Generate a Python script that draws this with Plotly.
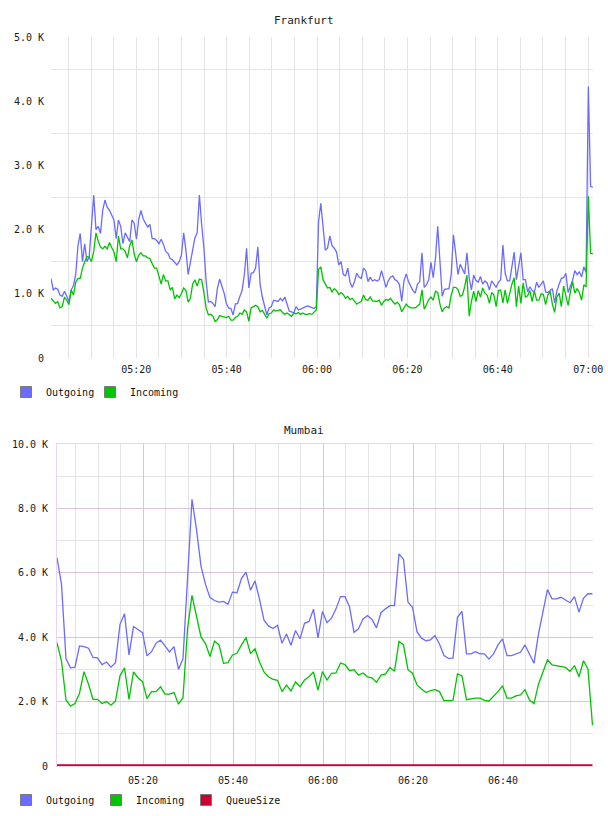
import plotly.graph_objects as go
import pandas as pd

# ---------------- data (values in thousands) ----------------
# Frankfurt: samples roughly every 30 s from 05:01
fra_outgoing = [
    1.24, 1.06, 1.09, 1.07, 0.98, 0.96, 1.04, 0.95, 0.88, 1.06,
    1.13, 1.30, 1.75, 1.94, 1.50, 1.78, 1.50, 1.58, 2.10, 2.54,
    2.00, 2.05, 1.94, 2.30, 2.46, 2.35, 2.30, 2.23, 2.15, 1.86,
    2.15, 2.05, 1.78, 1.95, 1.89, 1.81, 2.15, 2.10, 1.85, 2.15,
    2.30, 2.17, 2.10, 2.04, 2.08, 1.86, 1.86, 1.83, 1.78, 1.85,
    1.77, 1.66, 1.63, 1.55, 1.53, 1.48, 1.45, 1.50, 1.60, 1.95,
    1.68, 1.30, 1.50, 1.73, 1.87, 1.95, 2.54, 2.08, 1.72, 1.20,
    0.87, 0.88, 0.85, 0.80, 1.08, 1.23, 1.12, 1.01, 0.85, 0.78,
    0.77,
    0.67, 0.84, 0.85, 0.96, 1.05, 1.30, 1.71, 1.09, 1.32, 1.33,
    1.40, 1.73, 1.15, 0.95, 0.82, 0.67, 0.78, 0.80, 0.90, 0.89,
    0.88, 0.93, 0.89, 0.95, 0.83, 0.73, 0.72, 0.70, 0.80, 0.75,
    0.76, 0.78, 0.80, 0.81, 0.80, 0.78, 0.77, 0.80, 2.12, 2.41,
    2.05, 1.68, 1.71, 1.90, 1.75, 1.71, 1.65, 1.45, 1.50, 1.30,
    1.28, 1.40, 1.18, 1.10, 1.19, 1.32, 1.26, 1.24, 1.40, 1.36,
    1.19, 1.26, 1.20, 1.22, 1.20, 1.22, 1.36, 1.22, 1.10, 1.20,
    1.26, 1.28, 1.22, 1.20, 1.14, 0.88, 1.20, 1.31, 1.19, 1.12,
    1.05, 1.01, 1.15,
    1.19, 1.64, 1.10, 1.14, 1.22, 1.49, 1.25, 1.55, 2.05, 1.50,
    0.96, 1.07, 1.08, 1.08, 1.30, 1.92, 1.63, 1.30, 1.46, 1.37,
    1.31, 1.64, 1.25, 1.06, 1.29, 1.21, 1.18, 1.27, 1.15, 1.20,
    1.17, 1.06, 1.20, 1.15, 1.10, 1.18, 1.22, 1.76, 1.32, 1.20,
    1.20, 1.42, 1.65, 1.22, 1.42, 1.64, 1.22, 1.22, 1.03, 1.11,
    1.05, 1.03, 1.18, 1.10, 1.15, 1.20, 1.03, 1.02, 1.05, 1.08,
    0.86, 1.04, 1.15, 1.24, 1.25, 1.32, 1.02, 1.13, 1.21, 1.36,
    1.30, 1.34, 1.26, 1.42, 1.33, 4.23, 2.67, 2.66,
]
fra_incoming = [
    0.93, 0.88, 0.85, 0.88, 0.78, 0.80, 0.95, 0.90, 0.83, 1.06,
    0.98, 1.18, 1.24, 1.24, 1.40, 1.50, 1.58, 1.57, 1.50, 1.66,
    1.95, 1.82, 1.73, 1.70, 1.74, 1.70, 1.80, 1.72, 1.65, 1.50,
    1.90, 1.70, 1.70, 1.66, 1.56, 1.75, 1.84, 1.62, 1.50, 1.60,
    1.64, 1.59, 1.59, 1.56, 1.55, 1.47, 1.40, 1.40, 1.26, 1.15,
    1.30, 1.20, 1.20, 1.06, 1.10, 0.92, 0.98, 0.94, 1.00, 1.09,
    1.05, 0.87, 0.93, 1.15, 1.22, 1.12, 1.23, 1.22, 1.02, 0.78,
    0.67, 0.68, 0.65, 0.57, 0.60, 0.66, 0.65, 0.64, 0.63, 0.65,
    0.59,
    0.59, 0.63, 0.65, 0.70, 0.68, 0.75, 0.72, 0.57, 0.78, 0.80,
    0.82, 0.80, 0.72, 0.74, 0.68, 0.62, 0.69, 0.70, 0.75, 0.73,
    0.74, 0.75, 0.71, 0.68, 0.70, 0.67, 0.65, 0.70, 0.69, 0.71,
    0.68, 0.70, 0.68, 0.68, 0.69, 0.68, 0.72, 0.75, 1.38, 1.42,
    1.22, 1.15, 1.09, 1.10, 1.03, 1.08, 1.05, 0.99, 1.02, 0.99,
    0.93, 0.96, 0.91, 0.93, 0.88, 0.84, 0.86, 0.88, 0.98, 0.91,
    0.90, 0.95, 0.89, 0.89, 0.88, 0.90, 0.82, 0.88, 0.91, 0.90,
    0.93, 0.88, 0.84, 0.87, 0.83, 0.72, 0.78, 0.84, 0.80, 0.78,
    0.78, 0.78, 0.81,
    0.84, 1.06, 0.76, 0.83, 0.91, 0.95, 0.90, 1.04, 1.02, 0.84,
    0.72, 0.78, 0.80, 0.78, 0.98, 1.10, 1.10, 1.07, 0.96, 0.98,
    1.11, 1.29, 0.65, 0.88, 1.04, 0.88, 1.05, 0.95, 1.09, 1.01,
    0.98, 0.85, 1.02, 0.98, 0.80, 1.05, 1.06, 0.86, 1.06, 0.85,
    1.01, 1.15, 1.25, 0.80, 1.12, 0.85, 1.17, 0.95, 0.97, 1.05,
    0.88, 1.04, 0.90, 0.90, 1.00, 0.99, 0.83, 0.98, 1.04, 0.84,
    0.71, 0.95, 1.01, 0.80, 1.12, 0.95, 0.82, 1.03, 1.19, 1.01,
    1.08, 1.02, 0.90, 1.14, 1.11, 2.52, 1.63, 1.62,
]

# Mumbai: one sample per minute
mum_outgoing = [
    6.47, 5.64, 3.33, 3.05, 3.07, 3.73, 3.71, 3.66, 3.37, 3.36,
    3.15, 3.23, 3.07, 3.21, 4.40, 4.73, 3.45, 4.33, 4.24, 4.14,
    3.42, 3.55, 3.81, 3.91, 3.73, 3.54, 3.71, 3.00, 3.33, 5.90,
    8.28, 7.35, 6.21, 5.64, 5.23, 5.14, 5.09, 5.11, 5.02, 5.40,
    5.38, 5.82, 6.02, 5.46, 5.75, 5.18, 4.53, 4.35, 4.27, 4.37,
    3.81, 4.10, 3.75, 4.21, 3.95, 4.43, 4.49, 4.87, 3.98, 4.80,
    4.45,
    4.59, 4.88, 5.26, 5.26, 4.95, 4.15, 4.26, 4.57, 4.67, 4.55,
    4.29, 4.76, 4.88, 4.98, 4.98, 6.59, 6.42, 5.09, 4.93, 4.17,
    3.97, 3.89, 3.92, 4.05, 3.79, 3.43, 3.34, 3.35, 4.62, 4.80,
    3.48, 3.48, 3.55, 3.48, 3.48, 3.32, 3.48, 3.76, 3.95, 3.43,
    3.43, 3.48, 3.53, 3.76, 3.48, 3.19, 4.10, 4.78, 5.48, 5.19,
    5.19, 5.24, 5.16, 5.07, 5.26, 4.78, 5.21, 5.35, 5.35,
]
mum_incoming = [
    3.83, 3.26, 2.05, 1.86, 1.94, 2.26, 2.93, 2.54, 2.07, 2.07,
    1.94, 2.00, 1.89, 2.02, 2.80, 3.05, 2.07, 2.92, 2.74, 2.62,
    2.09, 2.31, 2.31, 2.46, 2.23, 2.23, 2.28, 1.92, 2.12, 4.24,
    5.30, 4.61, 4.01, 3.80, 3.40, 3.88, 3.76, 3.19, 3.21, 3.45,
    3.50, 3.76, 3.99, 3.49, 3.64, 3.23, 2.92, 2.77, 2.69, 2.66,
    2.31, 2.51, 2.33, 2.61, 2.46, 2.67, 2.77, 2.92, 2.36, 2.93,
    2.67,
    2.88, 2.89, 3.20, 3.15, 2.96, 2.99, 2.82, 2.89, 2.77, 2.74,
    2.60, 2.82, 2.85, 3.06, 2.94, 3.87, 3.76, 2.99, 2.88, 2.52,
    2.39, 2.28, 2.34, 2.37, 2.31, 2.03, 2.03, 2.04, 2.86, 2.80,
    2.06, 2.09, 2.11, 2.11, 2.04, 2.02, 2.16, 2.31, 2.49, 2.11,
    2.11, 2.18, 2.21, 2.37, 2.05, 1.94, 2.54, 2.91, 3.30, 3.14,
    3.12, 3.09, 3.06, 2.94, 3.12, 2.77, 3.27, 3.01, 1.27,
]
mum_queuesize = [
    0, 0, 0, 0, 0, 0, 0, 0, 0, 0,
    0, 0, 0, 0, 0, 0, 0, 0, 0, 0,
    0, 0, 0, 0, 0, 0, 0, 0, 0, 0,
    0, 0, 0, 0, 0, 0, 0, 0, 0, 0,
    0, 0, 0, 0, 0, 0, 0, 0, 0, 0,
    0, 0, 0, 0, 0, 0, 0, 0, 0, 0,
    0, 0, 0, 0, 0, 0, 0, 0, 0, 0,
    0, 0, 0, 0, 0, 0, 0, 0, 0, 0,
    0, 0, 0, 0, 0, 0, 0, 0, 0, 0,
    0, 0, 0, 0, 0, 0, 0, 0, 0, 0,
    0, 0, 0, 0, 0, 0, 0, 0, 0, 0,
    0, 0, 0, 0, 0, 0, 0, 0, 0, 0,
]

DAY = "2024-01-01 "
fra_start, fra_step = DAY + "05:01:08", 29.85
mum_start, mum_step = DAY + "05:00:53", 60

top_y_ticks = [0, 1, 2, 3, 4, 5]
top_y_text = ["0", "1.0 K", "2.0 K", "3.0 K", "4.0 K", "5.0 K"]
top_y_grid = [0.5, 1.5, 2.5, 3.5, 4.5]
bot_y_ticks = [0, 2, 4, 6, 8, 10]
bot_y_text = ["0", "2.0 K", "4.0 K", "6.0 K", "8.0 K", "10.0 K"]
bot_y_grid = [1, 3, 5, 7, 9]
top_x_labels = ["05:20", "05:40", "06:00", "06:20", "06:40", "07:00"]
bot_x_labels = ["05:20", "05:40", "06:00", "06:20", "06:40"]

BLUE = "#6b6bff"
GREEN = "#00c400"
RED = "#cc0033"
GRAY = "#e4e4e4"
PURPLE = "#dcc2dc"
LILAC = "#ecd4f0"
FONT = "DejaVu Sans Mono"
W, H = 608, 816

# ---------------- figure ----------------
t_top = pd.date_range(fra_start, periods=len(fra_outgoing), freq=pd.Timedelta(seconds=fra_step))
t_bot = pd.date_range(mum_start, periods=len(mum_outgoing), freq=pd.Timedelta(seconds=mum_step))

fig = go.Figure()
fig.add_trace(go.Scatter(x=t_top, y=fra_outgoing, mode="lines", line=dict(color=BLUE, width=1.3),
                         xaxis="x", yaxis="y", showlegend=False, name="Outgoing"))
fig.add_trace(go.Scatter(x=t_top, y=fra_incoming, mode="lines", line=dict(color=GREEN, width=1.3),
                         xaxis="x", yaxis="y", showlegend=False, name="Incoming"))
fig.add_trace(go.Scatter(x=t_bot, y=mum_outgoing, mode="lines", line=dict(color=BLUE, width=1.3),
                         xaxis="x2", yaxis="y2", showlegend=False, name="Outgoing"))
fig.add_trace(go.Scatter(x=t_bot, y=mum_incoming, mode="lines", line=dict(color=GREEN, width=1.3),
                         xaxis="x2", yaxis="y2", showlegend=False, name="Incoming"))
fig.add_trace(go.Scatter(x=t_bot, y=mum_queuesize, mode="lines", line=dict(color=RED, width=3.5),
                         xaxis="x2", yaxis="y2", showlegend=False, name="QueueSize"))

# legend swatches
def swatch(name, color, legend, xa, ya, visible=True):
    return go.Scatter(x=[None], y=[None], mode="markers", name=name, legend=legend,
                      xaxis=xa, yaxis=ya, opacity=1 if visible else 0,
                      marker=dict(symbol="square", size=11, color=color, line=dict(color="#7a7a7a", width=1)))

fig.add_trace(swatch("Outgoing", BLUE, "legend", "x", "y"))
fig.add_trace(swatch("Incoming", GREEN, "legend", "x", "y"))
fig.add_trace(swatch(" ", "white", "legend", "x", "y", visible=False))
fig.add_trace(swatch("Outgoing", BLUE, "legend2", "x2", "y2"))
fig.add_trace(swatch("Incoming", GREEN, "legend2", "x2", "y2"))
fig.add_trace(swatch("QueueSize", RED, "legend2", "x2", "y2"))
fig.add_trace(swatch(" ", "white", "legend2", "x2", "y2", visible=False))

def tm(hhmm):
    return pd.Timestamp(DAY + hhmm)

top_x_grid = pd.date_range(DAY + "05:05", DAY + "07:00", freq="5min")
top_x_text = [t.strftime("%H:%M") if t.strftime("%H:%M") in top_x_labels else "" for t in top_x_grid]
bot_x_minor = pd.date_range(DAY + "05:05", DAY + "07:00", freq="5min")

tickfont = dict(family=FONT, size=10, color="#1a1a1a")

fig.update_layout(
    width=W, height=H, autosize=False,
    margin=dict(l=0, r=0, t=0, b=0, pad=0, autoexpand=False),
    paper_bgcolor="white", plot_bgcolor="white",
    xaxis=dict(domain=[51 / W, 593 / W], anchor="y", type="date", automargin=False,
               range=[t_top[0], pd.Timestamp(DAY + "07:01:04")],
               tickmode="array", tickvals=list(top_x_grid), ticktext=top_x_text,
               showgrid=True, gridcolor=GRAY, gridwidth=1, zeroline=False, showline=False,
               ticks="", tickfont=tickfont, ticklabelstandoff=4),
    yaxis=dict(domain=[1 - 358 / H, 1 - 37 / H], anchor="x", range=[0, 5], automargin=False,
               tickmode="array", tickvals=top_y_ticks, ticktext=top_y_text,
               showgrid=False, zeroline=False, showline=False, ticks="",
               tickfont=tickfont, ticklabelstandoff=6,
               minor=dict(tickmode="array", tickvals=top_y_grid, showgrid=True, gridcolor=GRAY, ticks="")),
    xaxis2=dict(domain=[57 / W, 593 / W], anchor="y2", type="date", automargin=False,
                range=[t_bot[0], pd.Timestamp(DAY + "07:00:00")],
                tickmode="array", tickvals=[tm(s) for s in bot_x_labels], ticktext=bot_x_labels,
                showgrid=True, gridcolor=PURPLE, zeroline=False,
                showline=True, linecolor=LILAC, mirror=True, layer="below traces",
                ticks="", tickfont=tickfont, ticklabelstandoff=5,
                minor=dict(tickmode="array", tickvals=list(bot_x_minor), showgrid=True, gridcolor=GRAY, ticks="")),
    yaxis2=dict(domain=[1 - 766 / H, 1 - 444 / H], anchor="x2", range=[0, 10], automargin=False,
                tickmode="array", tickvals=bot_y_ticks, ticktext=bot_y_text,
                showgrid=True, gridcolor=PURPLE, zeroline=False,
                showline=True, linecolor=LILAC, ticks="", layer="below traces",
                tickfont=tickfont, ticklabelstandoff=6,
                minor=dict(tickmode="array", tickvals=bot_y_grid, showgrid=True, gridcolor=GRAY, ticks="")),
    legend=dict(x=6 / W, y=1 - 392 / H, xanchor="left", yanchor="middle", orientation="h",
                font=dict(family=FONT, size=10, color="#111"), itemwidth=30,
                entrywidth=39, entrywidthmode="pixels", bgcolor="rgba(0,0,0,0)", borderwidth=0),
    legend2=dict(x=6 / W, y=1 - 800 / H, xanchor="left", yanchor="middle", orientation="h",
                 font=dict(family=FONT, size=10, color="#111"), itemwidth=30,
                 entrywidth=45, entrywidthmode="pixels", bgcolor="rgba(0,0,0,0)", borderwidth=0),
    annotations=[
        dict(text="Frankfurt", x=0.5, y=1 - 20 / H, xref="paper", yref="paper",
             showarrow=False, font=dict(family=FONT, size=11, color="#222"), yanchor="middle"),
        dict(text="Mumbai", x=0.5, y=1 - 430 / H, xref="paper", yref="paper",
             showarrow=False, font=dict(family=FONT, size=11, color="#222"), yanchor="middle"),
    ],
)

fig.write_html("out.html")
